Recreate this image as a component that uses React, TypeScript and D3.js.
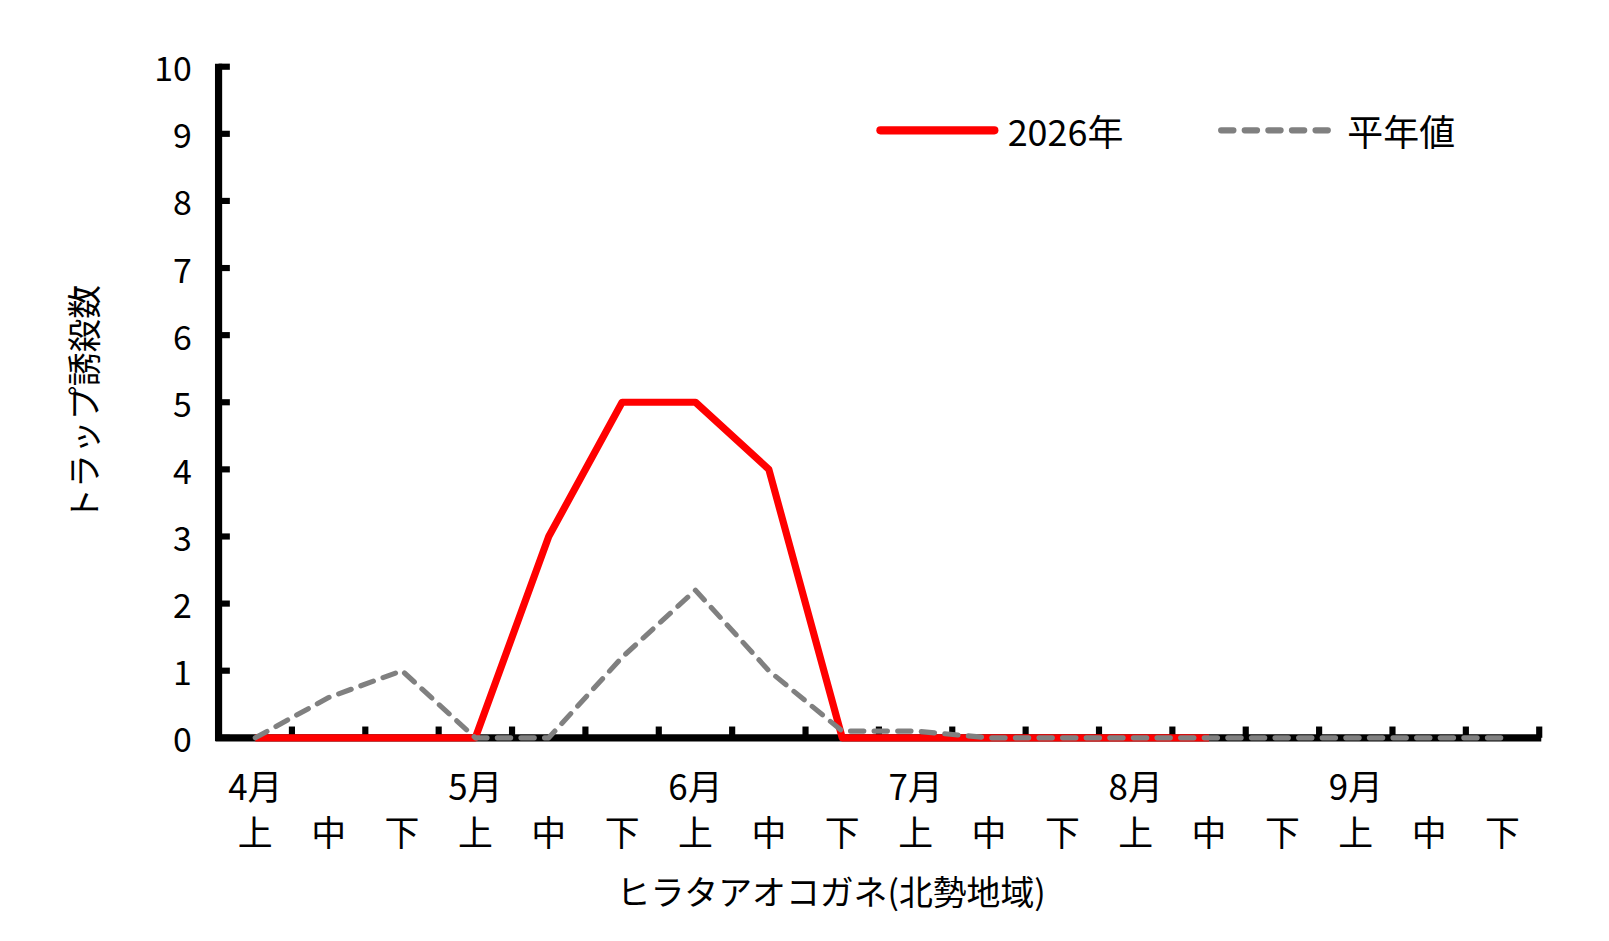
import { useMemo } from 'react'
import * as d3 from 'd3'

const months = ['4月', '5月', '6月', '7月', '8月', '9月']
const thirds = ['上', '中', '下']
const periods = months.flatMap((m) => thirds.map((t) => `${m}${t}`))

// 2026年 (ends at 8月中)
const current = [0, 0, 0, 0, 3, 5, 5, 4, 0, 0, 0, 0, 0, 0]
// 平年値
const normal = [0, 0.6, 1.0, 0, 0, 1.2, 2.2, 1.0, 0.1, 0.1, 0, 0, 0, 0, 0, 0, 0, 0]

const yTicks = d3.range(0, 11)

const W = 1609
const H = 941
// drawing units (the whole picture is laid out on a 1568-wide grid)
const VW = 1568
const VH = 917
const FONT = '"Noto Sans CJK JP", "Noto Sans", sans-serif'

export default function App() {
  const x = useMemo(() => d3.scaleBand<string>().domain(periods).range([213, 1500]), [])
  const y = useMemo(() => d3.scaleLinear().domain([0, 10]).range([719, 65]), [])

  const cx = (i: number) => (x(periods[i]) ?? 0) + x.bandwidth() / 2

  const line = d3
    .line<number>()
    .x((_, i) => cx(i))
    .y((d) => y(d))

  const boundaries = periods.map((p) => (x(p) ?? 0) + x.bandwidth())

  return (
    <div style={{ position: 'absolute', left: 0, top: 0 }}>
      <svg
        width={W}
        height={H}
        viewBox={`0 0 ${VW} ${VH}`}
        style={{ display: 'block', background: '#fff' }}
        fontFamily={FONT}
      >
        {/* y axis */}
        <line x1={213} x2={213} y1={y(10) - 3} y2={y(0) + 3} stroke="#000" strokeWidth={7} />
        {yTicks.map((t) => (
          <g key={t}>
            <line x1={213} x2={224} y1={y(t)} y2={y(t)} stroke="#000" strokeWidth={6} />
            <text
              x={187}
              y={y(t)}
              textAnchor="end"
              dominantBaseline="central"
              fontSize={33}
              fill="#000"
            >
              {t}
            </text>
          </g>
        ))}

        {/* x axis */}
        <line x1={210} x2={1502} y1={y(0)} y2={y(0)} stroke="#000" strokeWidth={7} />
        {boundaries.map((b, i) => (
          <line key={i} x1={b} x2={b} y1={y(0)} y2={y(0) - 11} stroke="#000" strokeWidth={6} />
        ))}

        {/* category labels */}
        {periods.map((p, i) => (
          <text
            key={p}
            x={cx(i)}
            y={810}
            textAnchor="middle"
            dominantBaseline="central"
            fontSize={34}
            fill="#000"
          >
            {thirds[i % 3]}
          </text>
        ))}
        {months.map((m, i) => (
          <text
            key={m}
            x={cx(i * 3)}
            y={765}
            textAnchor="middle"
            dominantBaseline="central"
            fontSize={34}
            fill="#000"
          >
            {m}
          </text>
        ))}

        {/* series */}
        <path d={line(current) ?? ''} fill="none" stroke="#ff0000" strokeWidth={7} strokeLinejoin="round" />
        <path
          d={line(normal) ?? ''}
          fill="none"
          stroke="#808080"
          strokeWidth={5}
          strokeDasharray="13 10"
          strokeLinecap="round"
          strokeLinejoin="round"
        />

        {/* legend */}
        <line x1={858} x2={969} y1={127} y2={127} stroke="#ff0000" strokeWidth={8} strokeLinecap="round" />
        <text x={982} y={127} dominantBaseline="central" fontSize={35} fill="#000">
          2026年
        </text>
        <line
          x1={1190}
          x2={1294}
          y1={127}
          y2={127}
          stroke="#808080"
          strokeWidth={6}
          strokeDasharray="12 11"
          strokeLinecap="round"
        />
        <text x={1313} y={127} dominantBaseline="central" fontSize={35} fill="#000">
          平年値
        </text>

        {/* axis titles */}
        <text x={810} y={868} textAnchor="middle" dominantBaseline="central" fontSize={33} fill="#000">
          ヒラタアオコガネ(北勢地域)
        </text>
        <text
          transform={`translate(80,393) rotate(-90)`}
          textAnchor="middle"
          dominantBaseline="central"
          fontSize={33}
          fill="#000"
        >
          トラップ誘殺数
        </text>
      </svg>
    </div>
  )
}
